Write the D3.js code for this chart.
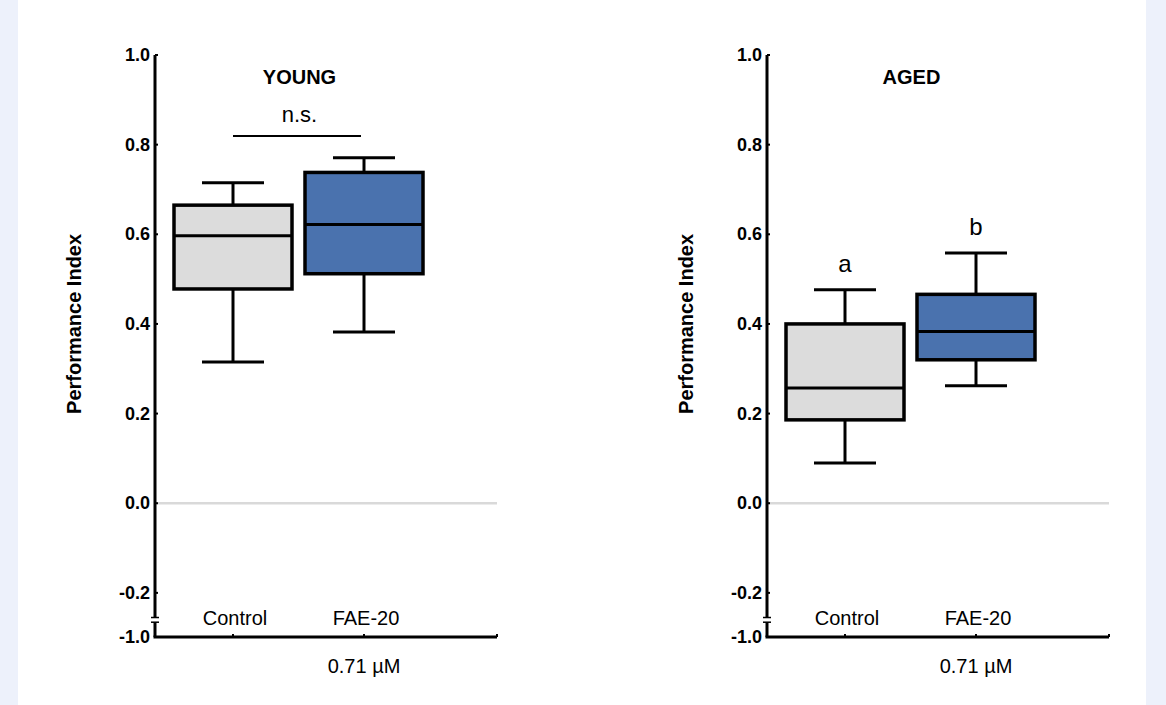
<!DOCTYPE html>
<html><head><meta charset="utf-8">
<script src="https://cdn.jsdelivr.net/npm/d3@7"></script>
<style>body{margin:0;background:#edf1fb;} svg{display:block;}</style>
</head><body>
<svg id="chart" width="1166" height="705"></svg>
<script>
// box stats: [low whisker, q1, median, q3, high whisker]
var groups = ["Control", "FAE-20"];
var youngStats = [[0.315, 0.478, 0.597, 0.665, 0.715], [0.382, 0.512, 0.622, 0.738, 0.771]];
var agedStats = [[0.09, 0.186, 0.257, 0.400, 0.476], [0.262, 0.320, 0.383, 0.466, 0.558]];
var yTicks = [1.0, 0.8, 0.6, 0.4, 0.2, 0.0, -0.2, -1.0];
var boxColors = ["#dcdcdc", "#4a72ae"];

var svg = d3.select("#chart");
svg.append("rect").attr("x", 18).attr("y", 0).attr("width", 1128).attr("height", 705).attr("fill", "#fff");

function panel(x0, title, stats, marks, sig) {
  var y = d3.scaleLinear().domain([-1.0, -0.265, 1.0]).range([637, 622, 55]);
  var x = d3.scalePoint().domain(groups).range([x0 + 78, x0 + 209]);
  var g = svg.append("g");
  var ax = x0 + 342;

  g.append("line").attr("x1", x0).attr("x2", ax).attr("y1", y(0)).attr("y2", y(0))
    .attr("stroke", "#d9d9d9").attr("stroke-width", 2.5);

  // y axis with break
  g.append("line").attr("x1", x0).attr("x2", x0).attr("y1", y(1)).attr("y2", y(-0.255)).attr("stroke", "#000").attr("stroke-width", 3);
  g.append("line").attr("x1", x0).attr("x2", x0).attr("y1", y(-0.275)).attr("y2", y(-1)).attr("stroke", "#000").attr("stroke-width", 3);
  [-0.255, -0.275].forEach(function (v) {
    g.append("line").attr("x1", x0 - 4).attr("x2", x0 + 4).attr("y1", y(v)).attr("y2", y(v)).attr("stroke", "#000").attr("stroke-width", 1.5);
  });
  yTicks.forEach(function (t) {
    g.append("line").attr("x1", x0).attr("x2", x0 + 3).attr("y1", y(t)).attr("y2", y(t)).attr("stroke", "#000").attr("stroke-width", 2);
    g.append("text").attr("x", x0 - 5).attr("y", y(t) + 6).attr("text-anchor", "end")
      .attr("font-family", "Liberation Sans, Arial").attr("font-weight", "bold").attr("font-size", 18).text(t.toFixed(1));
  });
  // x axis
  g.append("line").attr("x1", x0 - 1.5).attr("x2", ax).attr("y1", y(-1)).attr("y2", y(-1)).attr("stroke", "#000").attr("stroke-width", 3);
  groups.concat([null]).forEach(function (d) {
    var xx = d ? x(d) : ax;
    g.append("line").attr("x1", xx).attr("x2", xx).attr("y1", y(-1)).attr("y2", y(-1) - 3).attr("stroke", "#000").attr("stroke-width", 2);
  });
  groups.forEach(function (d) {
    g.append("text").attr("x", x(d) + 2).attr("y", 625).attr("text-anchor", "middle")
      .attr("font-family", "Liberation Sans, Arial").attr("font-size", 20).text(d);
  });
  g.append("text").attr("x", x("FAE-20")).attr("y", 673).attr("text-anchor", "middle")
    .attr("font-family", "Liberation Sans, Arial").attr("font-size", 20).text("0.71 µM");

  g.append("text").attr("transform", "translate(" + (x0 - 74) + "," + y(0.4) + ") rotate(-90)")
    .attr("text-anchor", "middle").attr("font-family", "Liberation Sans, Arial").attr("font-weight", "bold")
    .attr("font-size", 20).text("Performance Index");
  g.append("text").attr("x", (x(groups[0]) + x(groups[1])) / 2 + 1).attr("y", 84).attr("text-anchor", "middle")
    .attr("font-family", "Liberation Sans, Arial").attr("font-weight", "bold").attr("font-size", 20).text(title);

  // boxes
  stats.forEach(function (s, i) {
    var cx = x(groups[i]), w = 118;
    g.append("line").attr("x1", cx).attr("x2", cx).attr("y1", y(s[0])).attr("y2", y(s[4])).attr("stroke", "#000").attr("stroke-width", 3);
    [s[0], s[4]].forEach(function (v) {
      g.append("line").attr("x1", cx - 31).attr("x2", cx + 31).attr("y1", y(v)).attr("y2", y(v)).attr("stroke", "#000").attr("stroke-width", 3);
    });
    g.append("rect").attr("x", cx - w / 2).attr("width", w).attr("y", y(s[3])).attr("height", y(s[1]) - y(s[3]))
      .attr("fill", boxColors[i]).attr("stroke", "#000").attr("stroke-width", 3.5);
    g.append("line").attr("x1", cx - w / 2).attr("x2", cx + w / 2).attr("y1", y(s[2])).attr("y2", y(s[2])).attr("stroke", "#000").attr("stroke-width", 3);
    if (marks) {
      g.append("text").attr("x", cx).attr("y", y(s[4]) - 18).attr("text-anchor", "middle")
        .attr("font-family", "Liberation Sans, Arial").attr("font-size", 24).text(marks[i]);
    }
  });
  if (sig) {
    g.append("line").attr("x1", x(groups[0])).attr("x2", x(groups[1]) - 3).attr("y1", 136).attr("y2", 136).attr("stroke", "#000").attr("stroke-width", 2);
    g.append("text").attr("x", (x(groups[0]) + x(groups[1])) / 2 + 1).attr("y", 122).attr("text-anchor", "middle")
      .attr("font-family", "Liberation Sans, Arial").attr("font-size", 22).text(sig);
  }
}

panel(155, "YOUNG", youngStats, null, "n.s.");
panel(767, "AGED", agedStats, ["a", "b"], null);
</script>
</body></html>
